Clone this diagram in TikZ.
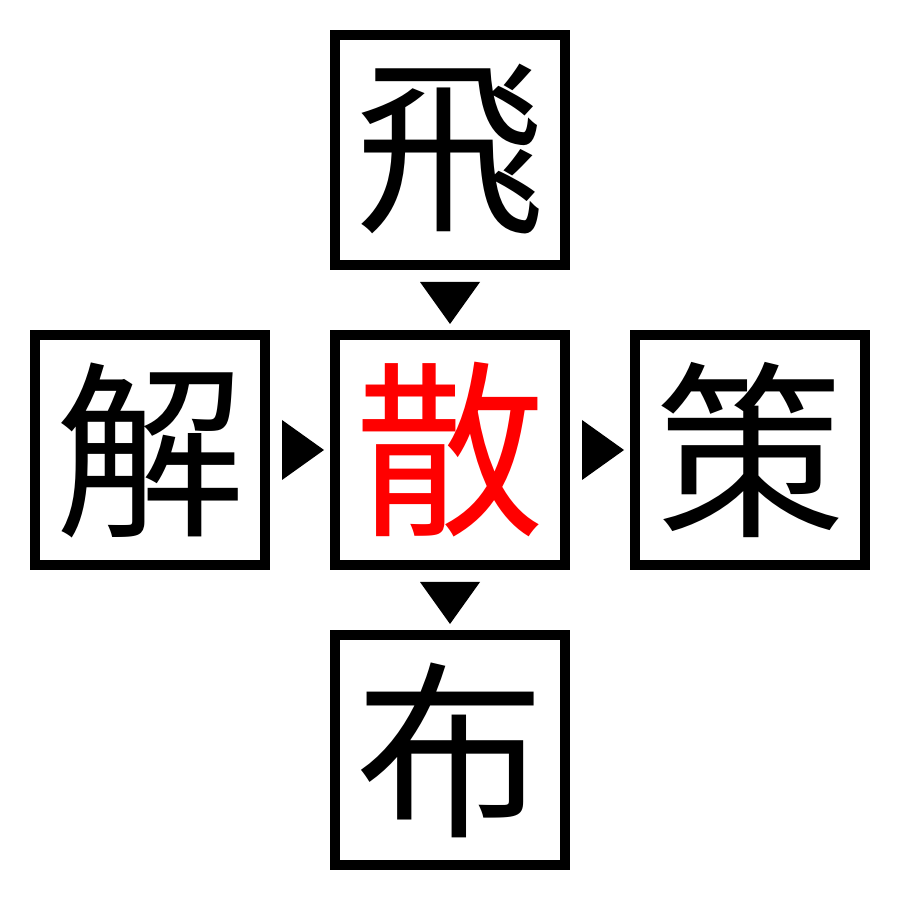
\documentclass[tikz,border=0pt]{standalone}
\usepackage{fontspec}
\newfontfamily\cjk{Noto Sans CJK JP}
\usetikzlibrary{positioning,calc}
\definecolor{kanjired}{RGB}{255, 0, 0}

\begin{document}
\begin{tikzpicture}[
    kanjibox/.style={draw, line width=0.1cm, minimum size=2.3cm, inner sep=0pt,
        font=\cjk\fontsize{54}{54}\selectfont},
    marker/.style={fill=black},
    node distance=0.6cm
]
    % Frame
    \useasboundingbox (0,0) rectangle (9,9);

    % Boxes
    \node[kanjibox] (san) at (4.5,4.5) {\textcolor{kanjired}{散}};
    \node[kanjibox, above=of san] (hi) {飛};
    \node[kanjibox, left=of san] (kai) {解};
    \node[kanjibox, right=of san] (saku) {策};
    \node[kanjibox, below=of san] (fu) {布};

    % Arrow markers
    \fill[marker] ($(hi.south)!0.5!(san.north)$) ++(-0.3,0.18) -- ++(0.6,0) -- ++(-0.3,-0.42) -- cycle;
    \fill[marker] ($(san.south)!0.5!(fu.north)$) ++(-0.3,0.18) -- ++(0.6,0) -- ++(-0.3,-0.42) -- cycle;
    \fill[marker] ($(kai.east)!0.5!(san.west)$) ++(-0.18,0.3) -- ++(0,-0.6) -- ++(0.42,0.3) -- cycle;
    \fill[marker] ($(san.east)!0.5!(saku.west)$) ++(-0.18,0.3) -- ++(0,-0.6) -- ++(0.42,0.3) -- cycle;
\end{tikzpicture}
\end{document}
